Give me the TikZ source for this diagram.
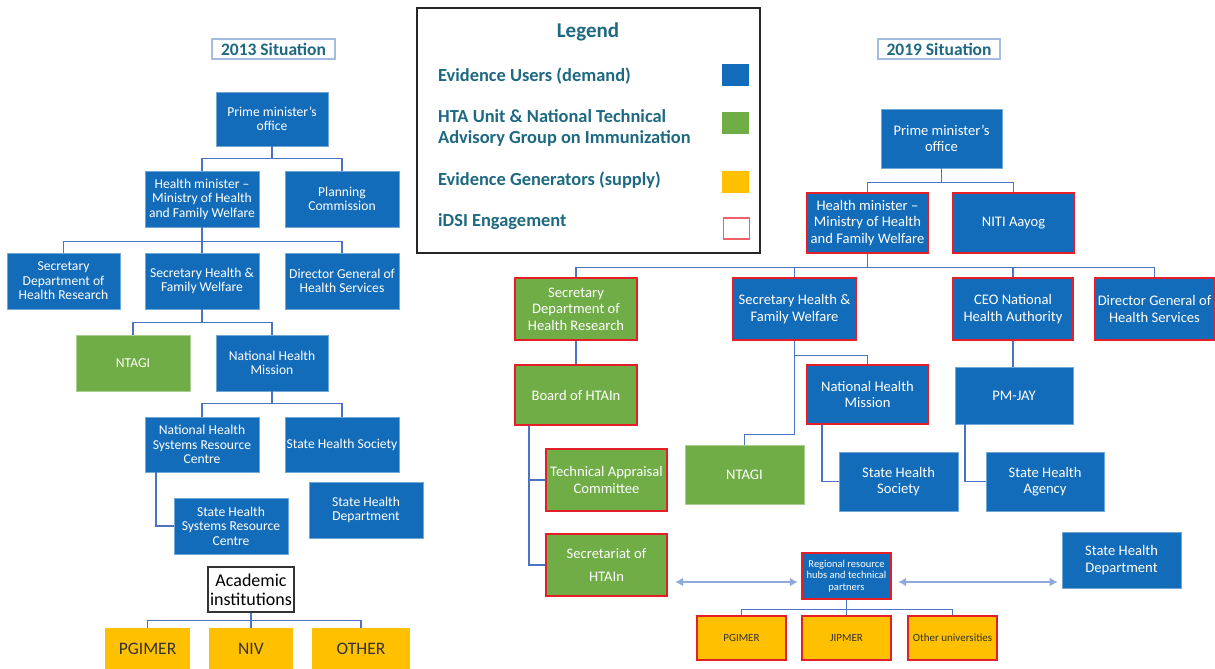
\documentclass[tikz,border=0pt]{standalone}
\usepackage{fontspec}
\setmainfont{Carlito}
\usetikzlibrary{arrows.meta,calc}

\definecolor{userblue}{RGB}{19,108,185}
\definecolor{htagreen}{RGB}{112,173,71}
\definecolor{genyellow}{RGB}{255,192,0}
\definecolor{idsired}{RGB}{230,30,40}
\definecolor{tealtext}{RGB}{30,105,130}
\definecolor{linkblue}{RGB}{75,115,195}
\definecolor{arrowblue}{RGB}{143,170,220}
\definecolor{titleedge}{RGB}{165,188,225}

\begin{document}
\begin{tikzpicture}[
  x=1pt, y=-1pt,
  every node/.style={align=center, inner sep=1pt},
  sz/.style 2 args={minimum width=#1pt, minimum height=#2pt},
  user/.style={fill=userblue, draw=userblue!60!white, line width=0.6pt, text=white},
  hta/.style={fill=htagreen, draw=htagreen!60!white, line width=0.6pt, text=white},
  gen/.style={fill=genyellow, text=black!80},
  idsi/.style={draw=idsired, line width=2.4pt},
  old/.style={font=\fontsize{13.6}{14.5}\selectfont},
  new/.style={font=\fontsize{14.6}{16.5}\selectfont},
  title/.style={draw=titleedge, line width=1.4pt, fill=white, text=tealtext,
                font=\bfseries\fontsize{17.5}{20}\selectfont},
  legtext/.style={anchor=west, align=left, text=tealtext, font=\bfseries\fontsize{18.4}{21}\selectfont},
  link/.style={draw=linkblue, line width=1.1pt},
  twoway/.style={draw=arrowblue, line width=2.6pt,
                 {Latex[length=8pt,width=9pt]}-{Latex[length=8pt,width=9pt]}}
]
\fill[white] (0,0) rectangle (1215,669);
\useasboundingbox (0,0) rectangle (1215,669);

% 2013 situation
\node[title, sz={123}{20}] (sit13) at (273.5,49) {2013 Situation};
\node[user, old, sz={112}{54}] (pm13) at (272,119) {Prime minister's\\office};
\node[user, old, sz={114}{56}] (hm13) at (202,199) {Health minister --\\Ministry of Health\\and Family Welfare};
\node[user, old, sz={114}{56}] (pc13) at (342,199) {Planning\\Commission};
\node[user, old, sz={113}{56}] (sdhr13) at (63.5,281) {Secretary\\Department of\\Health Research};
\node[user, old, sz={114}{56}] (shfw13) at (202,281) {Secretary Health \&\\Family Welfare};
\node[user, old, sz={114}{56}] (dghs13) at (342,281) {Director General of\\Health Services};
\node[hta, old, sz={114}{56}] (ntagi13) at (133,363) {NTAGI};
\node[user, old, sz={112}{56}] (nhm13) at (272,363) {National Health\\Mission};
\node[user, old, sz={114}{55}] (nhsrc13) at (202,444.5) {National Health\\Systems Resource\\Centre};
\node[user, old, sz={114}{55}] (shs13) at (342,444.5) {State Health Society};
\node[user, old, sz={114}{56}] (shsrc13) at (231,526) {State Health\\Systems Resource\\Centre};
\node[user, old, sz={114}{56}] (shd13) at (366,510) {State Health\\Department};
\node[draw=black!80, line width=1.6pt, fill=white, sz={86}{45}, inner sep=0pt,
      font=\fontsize{18}{19}\selectfont] (acad) at (251,589.5) {Academic\\institutions};
\node[gen, sz={85}{41}, font=\fontsize{17.5}{20}\selectfont] (pgimer13) at (147.5,648.5) {PGIMER};
\node[gen, sz={84}{41}, font=\fontsize{17.5}{20}\selectfont] (niv) at (251,648.5) {NIV};
\node[gen, sz={98}{41}, font=\fontsize{17.5}{20}\selectfont] (other13) at (361,648.5) {\raisebox{-4pt}{OTHER}};

\draw[link] (pm13.south) -- ++(0,12.5) -| (hm13.north);
\draw[link] (pm13.south) -- ++(0,12.5) -| (pc13.north);
\foreach \c in {sdhr13,shfw13,dghs13} \draw[link] (hm13.south) -- ++(0,14) -| (\c.north);
\foreach \c in {ntagi13,nhm13} \draw[link] (shfw13.south) -- ++(0,13) -| (\c.north);
\foreach \c in {nhsrc13,shs13} \draw[link] (nhm13.south) -- ++(0,12) -| (\c.north);
\draw[link] ([xshift=-46pt]nhsrc13.south) |- (shsrc13.west);
\foreach \c in {pgimer13,niv,other13} \draw[link] (acad.south) -- ++(0,8) -| (\c.north);

% legend
\node[draw=black!85, line width=1.5pt, fill=white, sz={343}{245}] (legend) at (588.5,130.5) {};
\node[text=tealtext, font=\bfseries\fontsize{21}{24}\selectfont] (legtitle) at (588,32) {Legend};
\node[legtext] (leguser) at (437,76) {Evidence Users (demand)};
\node[legtext] (leghta) at (437,127.5) {HTA Unit \& National Technical\\Advisory Group on Immunization};
\node[legtext] (leggen) at (437,180) {Evidence Generators (supply)};
\node[legtext] (legidsi) at (437,222) {iDSI Engagement};
\node[fill=userblue, sz={27}{22}, inner sep=0pt] (keyuser) at (735.5,75) {};
\node[fill=htagreen, sz={27}{22}, inner sep=0pt] (keyhta) at (735.5,122.5) {};
\node[fill=genyellow, sz={27}{22}, inner sep=0pt] (keygen) at (735.5,181.5) {};
\node[draw=idsired!70!white, line width=1.3pt, sz={26}{21}, inner sep=0pt] (keyidsi) at (736.5,228.5) {};

% 2019 situation
\node[title, sz={122}{20}] (sit19) at (939,49) {2019 Situation};
\node[user, new, sz={121}{59}] (pm19) at (941.5,138.5) {Prime minister's\\office};
\node[user, idsi, new, sz={121}{60}] (hm19) at (867.5,223) {Health minister --\\Ministry of Health\\and Family Welfare};
\node[user, idsi, new, sz={121}{60}] (niti) at (1013.5,223) {NITI Aayog};
\node[hta, idsi, new, sz={122}{62}] (sdhr19) at (576,309) {Secretary\\Department of\\Health Research};
\node[user, idsi, new, sz={123}{62}] (shfw19) at (794.5,309) {Secretary Health \&\\Family Welfare};
\node[user, idsi, new, sz={120}{62}] (ceo) at (1013,309) {CEO National\\Health Authority};
\node[user, idsi, new, sz={119}{62}] (dg19) at (1154.5,309) {Director General of\\Health Services};
\node[hta, idsi, new, sz={122}{60}] (board) at (576,395) {Board of HTAIn};
\node[user, idsi, new, sz={121}{59}] (nhm19) at (867.5,394.5) {National Health\\Mission};
\node[user, new, sz={118}{57}] (pmjay) at (1014,395.5) {PM-JAY};
\node[hta, idsi, new, sz={121}{62}] (tac) at (606.5,480) {Technical Appraisal\\Committee};
\node[hta, new, sz={119}{59}] (ntagi19) at (744.5,474.5) {NTAGI};
\node[user, new, sz={119}{59}] (shs19) at (898.5,481.5) {State Health\\Society};
\node[user, new, sz={118}{59}] (sha) at (1045,481.5) {State Health\\Agency};
\node[hta, idsi, new, sz={121}{62}] (secr) at (606.5,565) {Secretariat of\\[6pt]HTAIn};
\node[user, idsi, sz={89}{46}, font=\fontsize{10.5}{11.5}\selectfont] (hub) at (846.5,576)
  {Regional resource\\hubs and technical\\partners};
\node[user, new, sz={119}{56}] (shd19) at (1121.5,560) {State Health\\Department};
\node[gen, idsi, sz={89}{44}, font=\fontsize{11}{13}\selectfont] (pgimer19) at (741.5,638) {PGIMER};
\node[gen, idsi, sz={89}{44}, font=\fontsize{11}{13}\selectfont] (jipmer) at (846.5,638) {JIPMER};
\node[gen, idsi, sz={89}{44}, font=\fontsize{11}{13}\selectfont] (otheru) at (952.5,638) {Other universities};

\foreach \c in {hm19,niti} \draw[link] (pm19.south) -- ++(0,14) -| (\c.north);
\foreach \c in {sdhr19,shfw19,ceo,dg19} \draw[link] (hm19.south) -- ++(0,13) -| (\c.north);
\draw[link] (sdhr19.south) -- (board.north);
\draw[link] (shfw19.south) -- ++(0,14) -| (nhm19.north);
\draw[link] (shfw19.south) -- ++(0,93) -| (ntagi19.north);
\draw[link] (ceo.south) -- (ceo.south |- pmjay.north);
% committees hang off the board's left side
\draw[link] ([xshift=-47pt]board.south) |- (tac.west);
\draw[link] ([xshift=-47pt]board.south) |- (secr.west);
\draw[link] ([xshift=-45.5pt]nhm19.south) |- (shs19.west);
\draw[link] ([xshift=-49pt]pmjay.south) |- (sha.west);
\foreach \c in {pgimer19,jipmer,otheru} \draw[link] (hub.south) -- ++(0,9) -| (\c.north);
% two-way exchange through the regional hubs
\draw[twoway] ($(secr.east)+(7,17)$) -- ($(hub.west)+(-3,6)$);
\draw[twoway] ($(hub.east)+(6,6)$) -- ($(shd19.west)+(-4,22)$);
\end{tikzpicture}
\end{document}
